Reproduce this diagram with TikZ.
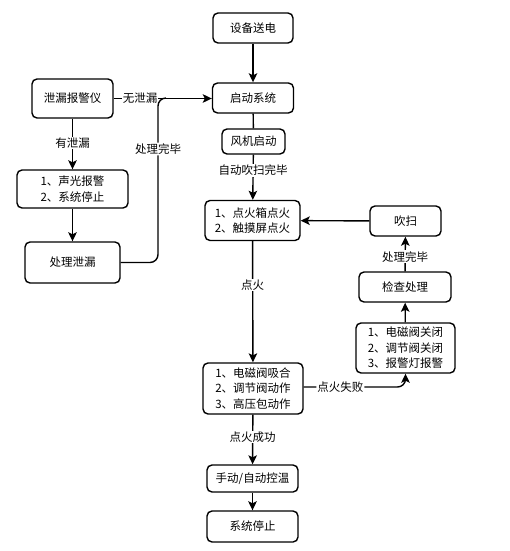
\documentclass[tikz,border=0pt]{standalone}
\usepackage{fontspec}
\setmainfont{Noto Sans CJK SC}
\usetikzlibrary{arrows.meta}
\begin{document}
\begin{tikzpicture}[x=1pt,y=-1pt,
  box/.style={draw,line width=1.4pt,rounded corners=5pt,fill=white,align=center,inner sep=0pt,font=\fontsize{11.5}{15.5}\selectfont},
  lbl/.style={fill=white,inner sep=1pt,font=\fontsize{11.5}{14}\selectfont},
  con/.style={line width=1.4pt},
  arr/.style={con,-{Stealth[length=9pt,width=8.5pt,inset=2pt]}}]
\useasboundingbox (0,0) rectangle (510,551);
\node[box,minimum width=80pt,minimum height=30pt] (n1) at (253,28) {设备送电};
\node[box,minimum width=81pt,minimum height=30pt] (n2) at (253,98) {启动系统};
\node[box,minimum width=63pt,minimum height=25pt] (n3) at (253.5,141.5) {风机启动};
\node[box,minimum width=95pt,minimum height=40pt] (n4) at (252.5,220.5) {1、点火箱点火\\2、触摸屏点火};
\node[box,minimum width=81pt,minimum height=39pt] (leak) at (72.5,98.5) {泄漏报警仪};
\node[box,minimum width=111pt,minimum height=38pt] (alarm) at (72.5,189) {1、声光报警\\2、系统停止};
\node[box,minimum width=95pt,minimum height=41pt] (handle) at (72.5,262.5) {处理泄漏};
\node[box,minimum width=71pt,minimum height=30pt] (purge) at (405.5,221) {吹扫};
\node[box,minimum width=92pt,minimum height=30pt] (check) at (405,287) {检查处理};
\node[box,minimum width=99pt,minimum height=50pt] (close) at (405.5,348) {1、电磁阀关闭\\2、调节阀关闭\\3、报警灯报警};
\node[box,minimum width=100pt,minimum height=51pt] (act) at (253,388.5) {1、电磁阀吸合\\2、调节阀动作\\3、高压包动作};
\node[box,minimum width=91pt,minimum height=27pt] (temp) at (252.5,478.5) {手动/自动控温};
\node[box,minimum width=91pt,minimum height=31pt] (stop) at (252.5,526.5) {系统停止};
\coordinate (jn) at (158,98);
\draw[arr] (n1) -- (n2);
\draw[con] (n2) -- (n3);
\draw[arr] (n3) -- node[lbl,pos=0.35] (l1) {自动吹扫完毕} (n4);
\draw[arr] (n4) -- node[lbl,pos=0.36] (l2) {点火} (act);
\draw[arr] (act) -- node[lbl,pos=0.45] (l3) {点火成功} (temp);
\draw[arr] (temp) -- (stop);
\draw[arr] (leak) -- node[lbl,pos=0.48] (l4) {有泄漏} (alarm);
\draw[arr] (alarm) -- (handle);
\draw[arr] (leak.east) -- node[lbl,pos=0.27] (l5) {无泄漏} (n2.west |- leak.east);
\draw[con,rounded corners=8pt] (handle.east) -| node[lbl,pos=0.845] (l6) {处理完毕} (jn) -- ([xshift=8pt]jn);
\draw[arr,rounded corners=8pt] ([yshift=1.5pt]act.east) -| node[lbl,pos=0.18] (l7) {点火失败} (close.south);
\draw[arr] (close) -- (check);
\draw[arr] (check) -- node[lbl,pos=0.42] (l8) {处理完毕} (purge);
\draw[arr] (purge) -- (n4);
\end{tikzpicture}
\end{document}
